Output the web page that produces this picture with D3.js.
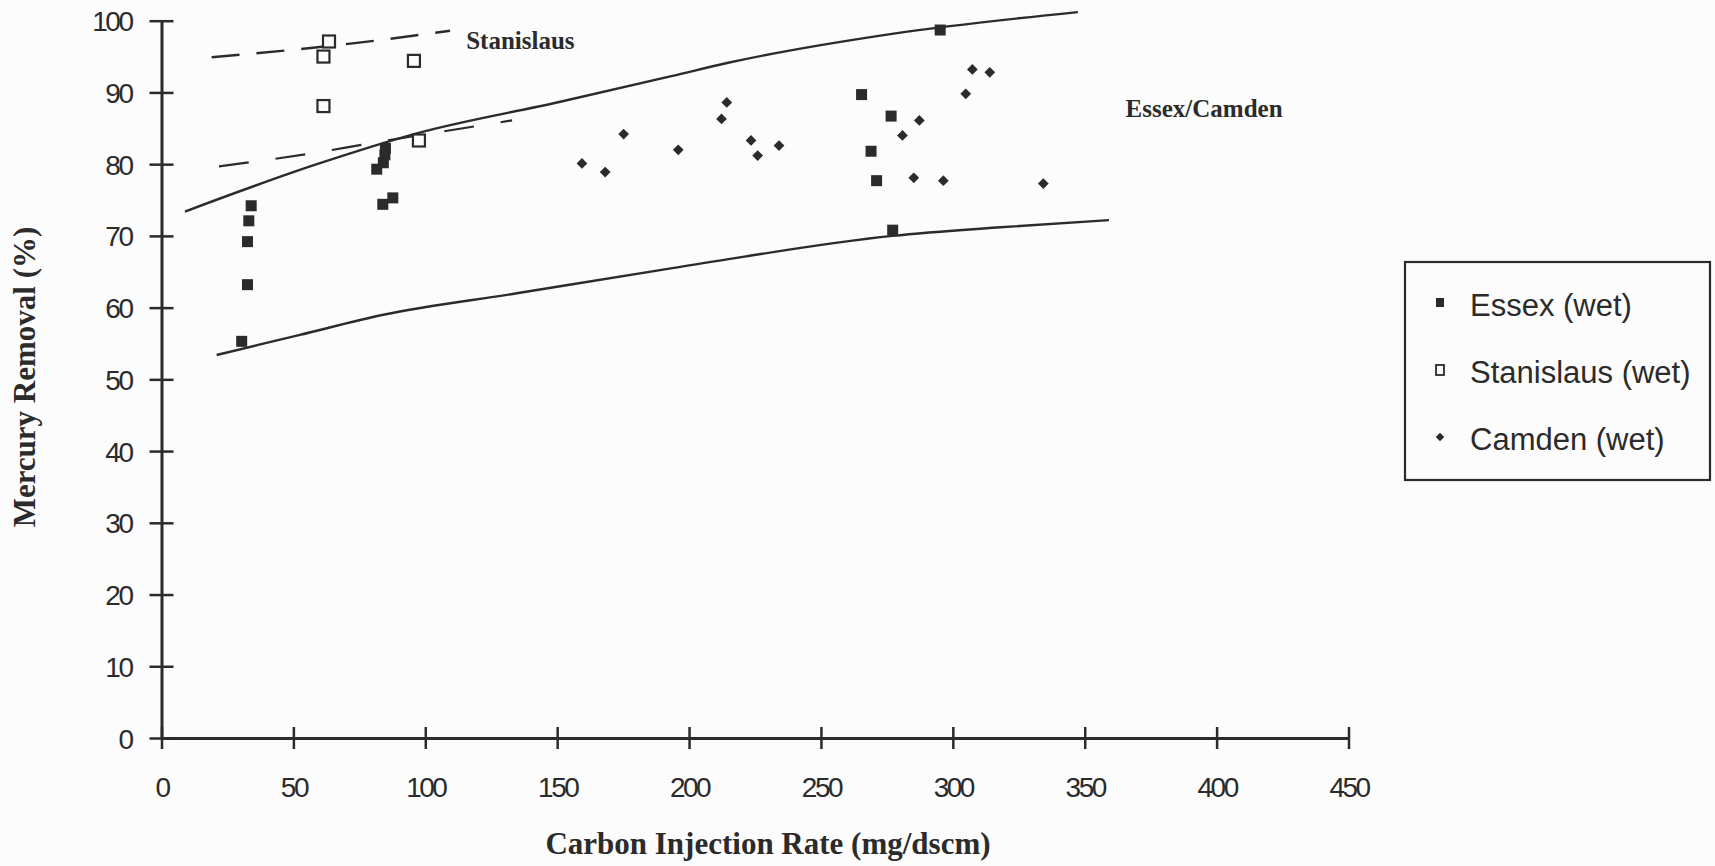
<!DOCTYPE html>
<html>
<head>
<meta charset="utf-8">
<script src="https://cdn.jsdelivr.net/npm/d3@7"></script>
<style>
  body { margin: 0; background: #fcfcfc; }
  svg { display: block; }
</style>
</head>
<body>
<svg id="chart" width="1715" height="866"></svg>
<script>
// Essex (wet) - filled squares
let essexX = [30.4, 32.6, 32.6, 33.1, 34.0, 81.6, 83.9, 84.1, 84.7, 84.9, 87.7, 265.4, 269.0, 271.1, 276.6, 277.2, 295.2];
let essexY = [55.3, 63.2, 69.2, 72.1, 74.2, 79.3, 74.4, 80.2, 81.3, 82.2, 75.3, 89.7, 81.8, 77.7, 86.7, 70.8, 98.7];

// Stanislaus (wet) - open squares
let stanX = [61.4, 61.4, 63.5, 95.7, 97.6];
let stanY = [88.1, 95.0, 97.1, 94.4, 83.3];

// Camden (wet) - diamonds
let camdenX = [159.4, 168.2, 175.2, 195.9, 212.3, 214.3, 223.5, 226.0, 234.1, 280.9, 285.2, 287.3, 296.4, 304.9, 307.4, 314.0, 334.3];
let camdenY = [80.1, 78.9, 84.2, 82.0, 86.3, 88.6, 83.3, 81.2, 82.6, 84.0, 78.1, 86.1, 77.7, 89.8, 93.2, 92.8, 77.3];

// Essex/Camden band (solid curves)
let upperBandX = [8.9, 58.9, 96.8, 151.2, 193.7, 214.4, 277.6, 347.4];
let upperBandY = [73.4, 80.0, 84.3, 88.7, 92.3, 94.1, 98.2, 101.2];
let lowerBandX = [20.9, 52.5, 84.1, 134.7, 193.7, 277.1, 318.1, 359.2];
let lowerBandY = [53.4, 56.2, 59.0, 62.0, 65.5, 70.0, 71.2, 72.2];

// Stanislaus band (dashed lines)
let stanUpperX = [19.0, 71.6, 109.4];
let stanUpperY = [94.9, 96.8, 98.6];
let stanLowerX = [21.8, 55.1, 79.1, 132.9];
let stanLowerY = [79.7, 81.4, 82.9, 86.1];

let xTicks = [0, 50, 100, 150, 200, 250, 300, 350, 400, 450];
let yTicks = [0, 10, 20, 30, 40, 50, 60, 70, 80, 90, 100];
let seriesNames = ["Essex (wet)", "Stanislaus (wet)", "Camden (wet)"];

let ink = "#2b2b2b";
let svg = d3.select("#chart");

let x = d3.scaleLinear().domain([0, 450]).range([161.5, 1348.5]);
let y = d3.scaleLinear().domain([0, 100]).range([738, 20.7]);

let zip = (xs, ys) => xs.map((v, i) => [v, ys[i]]);

// axes
let gx = svg.append("g")
  .attr("transform", "translate(0," + y(0) + ")")
  .call(d3.axisBottom(x).tickValues(xTicks).tickSizeOuter(0));
gx.select(".domain").attr("stroke", ink).attr("stroke-width", 3);
gx.selectAll(".tick line").attr("y1", -11).attr("y2", 11).attr("stroke", ink).attr("stroke-width", 2.5);
gx.selectAll(".tick text")
  .attr("y", 59).attr("dy", 0)
  .attr("fill", ink)
  .style("font-family", "'Liberation Sans', Arial, sans-serif")
  .style("font-size", "28px")
  .style("letter-spacing", "-2.5px");

let gy = svg.append("g")
  .attr("transform", "translate(" + x(0) + ",0)")
  .call(d3.axisLeft(y).tickValues(yTicks).tickSizeOuter(0));
gy.select(".domain").attr("stroke", ink).attr("stroke-width", 3);
gy.selectAll(".tick line").attr("x1", -12).attr("x2", 12).attr("stroke", ink).attr("stroke-width", 2.5);
gy.selectAll(".tick text")
  .attr("x", -30).attr("dy", "0.36em")
  .attr("fill", ink)
  .style("font-family", "'Liberation Sans', Arial, sans-serif")
  .style("font-size", "28px")
  .style("letter-spacing", "-2.5px");

// curves
let line = d3.line()
  .x((d) => x(d[0]))
  .y((d) => y(d[1]))
  .curve(d3.curveMonotoneX);

svg.append("path").datum(zip(upperBandX, upperBandY))
  .attr("d", line).attr("fill", "none").attr("stroke", ink).attr("stroke-width", 2.4);
svg.append("path").datum(zip(lowerBandX, lowerBandY))
  .attr("d", line).attr("fill", "none").attr("stroke", ink).attr("stroke-width", 2.4);
svg.append("path").datum(zip(stanUpperX, stanUpperY))
  .attr("d", line).attr("fill", "none").attr("stroke", ink).attr("stroke-width", 2.4)
  .attr("stroke-dasharray", "28,17");
svg.append("path").datum(zip(stanLowerX, stanLowerY))
  .attr("d", line).attr("fill", "none").attr("stroke", ink).attr("stroke-width", 2.2)
  .attr("stroke-dasharray", "30,27");

// points
svg.append("g").selectAll("rect")
  .data(zip(essexX, essexY))
  .enter()
  .append("rect")
  .attr("x", (d) => x(d[0]) - 5.5)
  .attr("y", (d) => y(d[1]) - 5.5)
  .attr("width", 11)
  .attr("height", 11)
  .attr("fill", ink);

svg.append("g").selectAll("rect")
  .data(zip(stanX, stanY))
  .enter()
  .append("rect")
  .attr("x", (d) => x(d[0]) - 6)
  .attr("y", (d) => y(d[1]) - 6)
  .attr("width", 12)
  .attr("height", 12)
  .attr("fill", "#fcfcfc")
  .attr("stroke", ink)
  .attr("stroke-width", 2.2);

svg.append("g").selectAll("rect")
  .data(zip(camdenX, camdenY))
  .enter()
  .append("rect")
  .attr("x", -3.8)
  .attr("y", -3.8)
  .attr("width", 7.6)
  .attr("height", 7.6)
  .attr("fill", ink)
  .attr("transform", (d) => "translate(" + x(d[0]) + "," + y(d[1]) + ") rotate(45)");

// annotations
let serif = "'Liberation Serif', 'Times New Roman', serif";
svg.append("text")
  .attr("x", x(115.5)).attr("y", y(96.0))
  .attr("fill", ink)
  .style("font-family", serif).style("font-weight", "bold").style("font-size", "25px")
  .text("Stanislaus");
svg.append("text")
  .attr("x", x(365.5)).attr("y", y(86.6))
  .attr("fill", ink)
  .style("font-family", serif).style("font-weight", "bold").style("font-size", "25px")
  .text("Essex/Camden");

// axis titles
svg.append("text")
  .attr("x", 768).attr("y", 854)
  .attr("text-anchor", "middle")
  .attr("fill", ink)
  .style("font-family", serif).style("font-weight", "bold").style("font-size", "31px")
  .text("Carbon Injection Rate (mg/dscm)");
svg.append("text")
  .attr("transform", "translate(35,377) rotate(-90)")
  .attr("text-anchor", "middle")
  .attr("fill", ink)
  .style("font-family", serif).style("font-weight", "bold").style("font-size", "31px")
  .text("Mercury Removal (%)");

// legend
let legend = svg.append("g");
legend.append("rect")
  .attr("x", 1405).attr("y", 262)
  .attr("width", 305).attr("height", 218)
  .attr("fill", "none")
  .attr("stroke", ink)
  .attr("stroke-width", 2.2);

let rows = legend.selectAll("g.row")
  .data(seriesNames)
  .enter()
  .append("g")
  .attr("class", "row")
  .attr("transform", (d, i) => "translate(1440," + (316 + i * 67) + ")");

rows.append("text")
  .attr("x", 30).attr("y", 0)
  .attr("fill", ink)
  .style("font-family", "'Liberation Sans', Arial, sans-serif")
  .style("font-size", "31px")
  .text((d) => d);

rows.filter((d, i) => i === 0).append("rect")
  .attr("x", -4).attr("y", -18).attr("width", 8).attr("height", 9).attr("fill", ink);
rows.filter((d, i) => i === 1).append("rect")
  .attr("x", -4).attr("y", -18).attr("width", 8).attr("height", 10)
  .attr("fill", "none").attr("stroke", ink).attr("stroke-width", 1.8);
rows.filter((d, i) => i === 2).append("rect")
  .attr("x", -3).attr("y", -3).attr("width", 6).attr("height", 6).attr("fill", ink)
  .attr("transform", "translate(0,-13) rotate(45)");
</script>
</body>
</html>
